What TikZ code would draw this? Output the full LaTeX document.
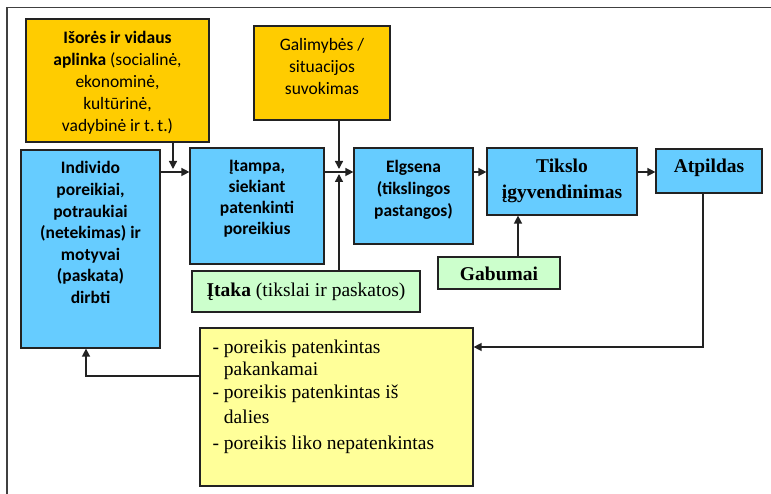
\documentclass[tikz,border=0pt]{standalone}
\usepackage{fontspec}
\setmainfont{Liberation Serif}
\newfontfamily\calib{Carlito}
\usetikzlibrary{arrows.meta}

\definecolor{skyfill}{HTML}{66CCFF}
\definecolor{amber}{HTML}{FFCC00}
\definecolor{mint}{HTML}{CCFFCC}
\definecolor{lemon}{HTML}{FFFF99}
\definecolor{edge}{HTML}{222222}

\tikzset{
  box/.style={draw=edge, line width=1.2pt, inner sep=0pt},
  bluebox/.style={box, fill=skyfill},
  amberbox/.style={box, fill=amber},
  mintbox/.style={box, fill=mint},
  lemonbox/.style={box, fill=lemon},
  cal/.style={inner sep=0pt, align=center, font=\calib\fontsize{17.5}{21.8}\selectfont},
  calb/.style={cal, font=\calib\bfseries\fontsize{17.5}{21.6}\selectfont},
  tms/.style={inner sep=0pt, align=center, font=\fontsize{19.5}{26}\selectfont},
  tmsb/.style={tms, font=\bfseries\fontsize{19.5}{26}\selectfont},
  arr/.style={line width=1.4pt, draw=edge, -{Triangle[length=8pt,width=8pt]}},
}

\begin{document}
\begin{tikzpicture}[x=1pt,y=-1pt]
\useasboundingbox (0,0) rectangle (771,494);

% outer frame (top and left edges)
\draw[line width=1.5pt, draw=black!75] (7,494) -- (7,7.5) -- (771,7.5);

% boxes
\node[amberbox, minimum width=183pt, minimum height=123pt] (isor) at (117.5,80.5) {};
\node[amberbox, minimum width=136pt, minimum height=94pt] (gal) at (322,73) {};
\node[bluebox, minimum width=139pt, minimum height=198pt] (ind) at (90.5,249) {};
\node[bluebox, minimum width=134pt, minimum height=116pt] (itam) at (257,206) {};
\node[bluebox, minimum width=119pt, minimum height=96pt] (elg) at (413.5,196) {};
\node[bluebox, minimum width=150pt, minimum height=67pt] (tik) at (562,181.5) {};
\node[bluebox, minimum width=106pt, minimum height=44pt] (atp) at (709,171) {};
\node[mintbox, minimum width=228pt, minimum height=41pt] (itaka) at (306,291.5) {};
\node[mintbox, minimum width=122pt, minimum height=32pt] (gab) at (499,273) {};
\node[lemonbox, minimum width=273pt, minimum height=158pt] (yel) at (336.5,407) {};

% box texts
\node[cal, anchor=north] (isort) at ([yshift=-13]isor.north)
  {\textbf{Išorės ir vidaus}\\\textbf{aplinka} (socialinė,\\ekonominė,\\kultūrinė,\\vadybinė ir t.\,t.)};
\node[cal, anchor=north] (galt) at ([yshift=-13]gal.north)
  {Galimybės /\\situacijos\\suvokimas};
\node[calb, anchor=north] (indt) at ([yshift=-12]ind.north)
  {Individo\\poreikiai,\\potraukiai\\(netekimas) ir\\motyvai\\(paskata)\\dirbti};
\node[calb, anchor=north, font=\calib\bfseries\fontsize{17.5}{21}\selectfont] (itamt) at ([yshift=-13]itam.north)
  {Įtampa,\\siekiant\\patenkinti\\poreikius};
\node[calb, anchor=north] (elgt) at ([yshift=-13]elg.north)
  {Elgsena\\(tikslingos\\pastangos)};
\node[tmsb, anchor=north] (tikt) at ([yshift=-11]tik.north)
  {Tikslo\\įgyvendinimas};
\node[tmsb] (atpt) at ([yshift=3]atp.center) {Atpildas};
\node[tms] (itakat) at (itaka.center) {\textbf{Įtaka} (tikslai ir paskatos)};
\node[tmsb] (gabt) at ([yshift=-1]gab.center) {Gabumai};
\node[tms, align=left, anchor=north west, font=\fontsize{19.5}{22}\selectfont] (yelt) at ([xshift=13,yshift=-12]yel.north west)
  {- poreikis patenkintas\\\phantom{- }pakankamai\\[1.5pt]- poreikis patenkintas iš\\[3pt]\phantom{- }dalies\\[4pt]- poreikis liko nepatenkintas};

% junction points of the main row
\coordinate (j1) at (173,172);
\coordinate (j2) at (339,172);
\coordinate (j4) at (703,347);
\coordinate (j5) at (86,376);

% main row
\draw[arr] (ind.east |- j1) -- (itam.west |- j1);
\draw[arr] (itam.east |- j2) -- (elg.west |- j2);
\draw[arr] (elg.east |- j2) -- (tik.west |- j2);
\draw[arr] (tik.east |- j2) -- (atp.west |- j2);

% influences onto the row
\draw[arr, shorten >=3pt] (isor.south -| j1) -- (j1);
\draw[arr, shorten >=3pt] (gal.south -| j2) -- (j2);
\draw[arr, shorten >=2pt] (itaka.north -| j2) -- (j2);
\draw[arr] ([xshift=19]gab.north) -- ([xshift=19]gab.north |- tik.south);

% feedback loop
\draw[arr] (atp.south -| j4) |- (yel.east |- j4);
\draw[arr] (yel.west |- j5) -| (ind.south -| j5);
\end{tikzpicture}
\end{document}
